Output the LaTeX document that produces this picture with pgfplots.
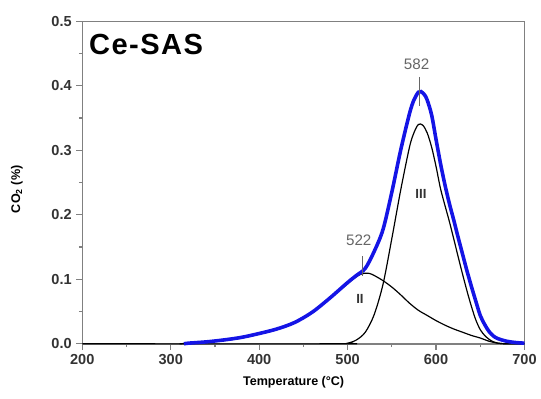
\documentclass[border=0pt]{standalone}
\usepackage{fontspec}
\setmainfont{Liberation Sans}
\usepackage{pgfplots}
\pgfplotsset{compat=1.18}
\definecolor{framegray}{HTML}{808080}
\definecolor{txtgray}{HTML}{333333}
\definecolor{annot}{HTML}{666666}
\definecolor{sumblue}{HTML}{1414E6}
\begin{document}
\begin{tikzpicture}
\begin{axis}[
  scale only axis,
  width=334.5pt, height=244pt,
  xmin=200, xmax=700, ymin=0, ymax=0.5,
  xtick={200,300,...,700}, ytick={0,0.1,...,0.5},
  minor x tick num=1, minor y tick num=1,
  xtick pos=bottom, ytick pos=left, tick align=outside,
  major tick length=4.5pt, minor tick length=2.5pt,
  axis line style={framegray, line width=1.1pt},
  every tick/.style={framegray, line width=0.9pt},
  /pgf/number format/assume math mode=true,
  ticklabel style={font=\bfseries\fontsize{11}{13}\selectfont, text=txtgray},
  yticklabel style={/pgf/number format/fixed, /pgf/number format/fixed zerofill, /pgf/number format/precision=1},
  xticklabel style={/pgf/number format/1000 sep={}},
  xlabel={Temperature (\textdegree C)},
  ylabel={CO\textsubscript{2} (\%)},
  label style={font=\bfseries\fontsize{9.5}{11}\selectfont, text=black},
  xlabel style={at={(axis description cs:0.478,-0.119)}, anchor=center},
  ylabel style={at={(axis description cs:-0.148,0.479)}, anchor=center},
  clip=false,
]
% peak II (fit)
\addplot[black, line width=0.9pt, smooth] coordinates {
(310,0) (320,0.001) (340,0.003) (360,0.005) (380,0.009) (400,0.015) (420,0.022)
(440,0.033) (460,0.049) (480,0.070) (490,0.082) (500,0.093) (505,0.099) (510,0.104)
(515,0.108) (520,0.1095) (525,0.109) (530,0.106) (540,0.098) (550,0.088) (560,0.076)
(570,0.063) (580,0.052) (590,0.044) (600,0.036) (610,0.029) (620,0.023) (630,0.018)
(640,0.013) (650,0.009) (660,0.004) (670,0.001) (680,0) (700,0)};
% peak III (fit)
\addplot[black, line width=0.9pt, smooth] coordinates {
(200,0) (490,0) (500,0.001) (510,0.006) (520,0.018) (530,0.045) (540,0.092)
(550,0.163) (560,0.238) (570,0.305) (575,0.327) (580,0.340) (585,0.339) (590,0.327)
(595,0.305) (600,0.275) (605,0.241) (610,0.215) (615,0.190) (620,0.163) (625,0.135)
(630,0.108) (635,0.082) (640,0.058) (645,0.037) (650,0.022) (655,0.013) (660,0.007)
(665,0.003) (670,0.001) (680,0) (700,0)};
% measured total
\addplot[sumblue, line width=2.7pt, smooth] coordinates {
(315,0) (320,0.001) (340,0.003) (360,0.006) (380,0.010) (400,0.016) (420,0.023)
(440,0.033) (460,0.049) (480,0.071) (500,0.095) (510,0.106) (520,0.117) (530,0.143)
(540,0.177) (550,0.235) (560,0.300) (570,0.357) (575,0.378) (580,0.390) (583,0.391)
(587,0.386) (590,0.378) (595,0.355) (600,0.317) (605,0.280) (610,0.247) (615,0.218)
(620,0.192) (625,0.165) (630,0.139) (635,0.113) (640,0.089) (645,0.066) (650,0.044)
(655,0.030) (660,0.019) (665,0.012) (670,0.008) (680,0.004) (690,0.002) (700,0.001)};
% annotations
\draw[annot, line width=0.7pt] (axis cs:581.3,0.414) -- (axis cs:581.3,0.369);
\draw[annot, line width=0.7pt] (axis cs:516.7,0.136) -- (axis cs:516.7,0.1055);
\node[annot, font=\fontsize{11.5}{13}\selectfont] at (axis cs:578,0.433) {582};
\node[annot, font=\fontsize{11.5}{13}\selectfont] at (axis cs:512.6,0.160) {522};
\node[txtgray, font=\bfseries\fontsize{10}{12}\selectfont] at (axis cs:514,0.070) {II};
\node[txtgray, font=\bfseries\fontsize{10}{12}\selectfont] at (axis cs:583,0.233) {III};
\node[anchor=west, font=\bfseries\fontsize{22}{26}\selectfont\addfontfeature{LetterSpace=5}]
  at (rel axis cs:0.005,0.928) {Ce-SAS};
% page extent of the reference
\path (rel axis cs:0,0) ++(-62.25pt,-41.25pt) coordinate (bbsw);
\path (rel axis cs:1,1) ++(9pt,16.1pt) coordinate (bbne);
\end{axis}
\path[use as bounding box] (bbsw) rectangle (bbne);
\end{tikzpicture}
\end{document}
